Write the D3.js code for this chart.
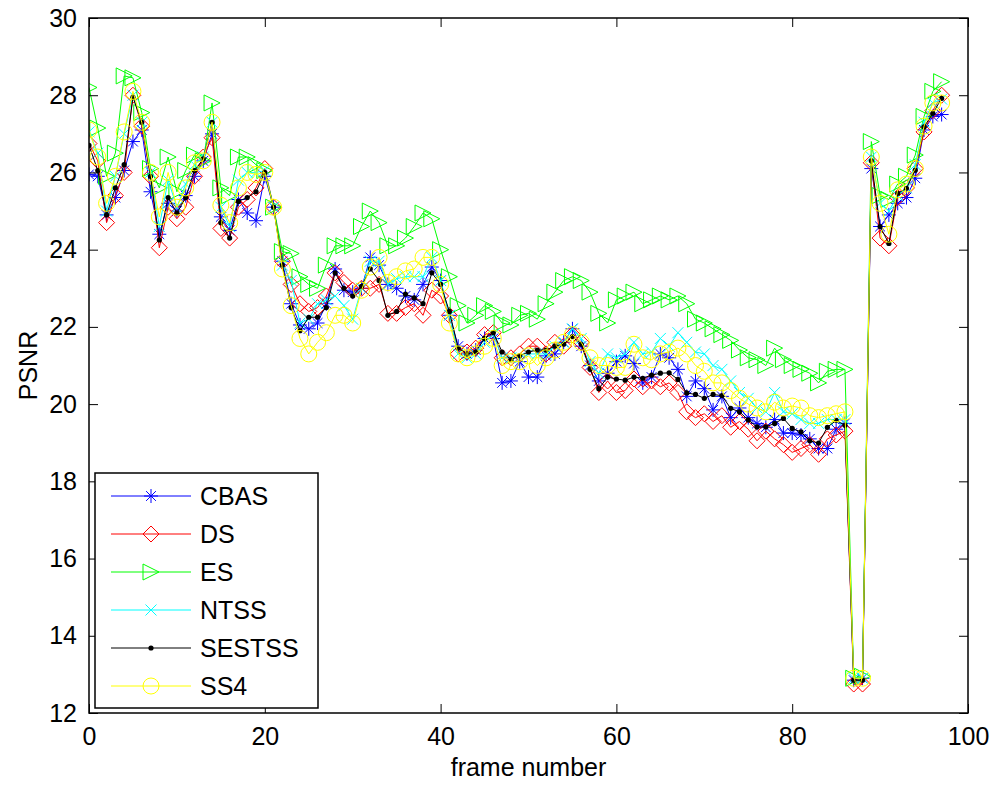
<!DOCTYPE html>
<html>
<head>
<meta charset="utf-8">
<script src="https://cdn.jsdelivr.net/npm/d3@7"></script>
<style>
  body { margin: 0; background: #fff; }
  svg { font-family: "Liberation Sans", Arial, sans-serif; }
</style>
</head>
<body>
<div id="chart"></div>
<script>
// frame numbers 0..97
const frames = d3.range(0, 98);

const cbas = [25.95, 25.9, 24.9, 25.35, 26.05, 26.8, 27.1, 25.5, 24.4, 25.2,
  25.0, 25.4, 25.9, 26.3, 27.0, 24.85, 24.5, 25.3, 24.95, 24.75,
  25.9, 25.1, 23.7, 22.6, 22.05, 21.95, 22.1, 22.6, 23.5, 22.95,
  22.9, 23.0, 23.8, 23.6, 23.1, 23.0, 22.8, 22.7, 23.1, 23.55,
  23.2, 22.3, 21.5, 21.3, 21.4, 21.7, 21.7, 20.55, 20.6, 21.1,
  20.7, 20.7, 21.25, 21.3, 21.6, 21.95, 21.5, 21.0, 20.6, 20.8,
  21.1, 21.25, 21.05, 20.55, 20.7, 21.3, 21.2, 20.9, 20.2, 20.6,
  20.4, 19.85, 20.2, 19.65, 19.9, 19.65, 19.5, 19.4, 19.6, 19.25,
  19.25, 19.2, 19.1, 18.85, 18.85, 19.35, 19.5, 12.85, 12.9, 26.1,
  24.6, 24.9, 25.2, 25.35, 25.85, 27.1, 27.45, 27.5];

const ds = [26.75, 26.3, 24.7, 25.4, 26.0, 28.0, 27.2, 25.9, 24.05, 25.1,
  24.8, 25.1, 25.9, 26.4, 26.9, 24.55, 24.3, 25.1, 25.3, 25.6,
  26.1, 25.1, 23.7, 23.1, 22.6, 22.4, 22.5, 22.8, 23.4, 23.15,
  22.95, 23.0, 23.0, 23.1, 22.35, 22.35, 22.5, 22.6, 22.3, 22.95,
  22.8, 22.3, 21.3, 21.35, 21.45, 21.8, 21.85, 21.2, 21.2, 21.3,
  21.5, 21.5, 21.3, 21.6, 21.5, 21.8, 21.6, 20.95, 20.3, 20.6,
  20.3, 20.35, 20.65, 20.45, 20.6, 20.45, 20.55, 20.3, 19.8, 19.65,
  19.75, 19.55, 19.7, 19.4, 19.55, 19.35, 19.05, 19.3, 19.1, 18.95,
  18.75, 18.85, 18.95, 18.7, 19.1, 19.2, 19.3, 12.75, 12.75, 26.25,
  24.3, 24.1, 25.35, 25.6, 26.1, 27.05, 27.6, 28.0];

const es = [28.2, 27.15, 25.9, 26.5, 28.5, 28.45, 27.55, 26.1, 25.6, 26.4,
  25.5, 26.05, 26.45, 26.3, 27.8, 25.6, 25.4, 26.4, 26.4, 26.2,
  26.05, 25.1, 23.95, 23.9, 23.3, 23.1, 23.0, 23.6, 24.1, 24.1,
  24.1, 24.6, 25.0, 24.7, 24.1, 24.1, 24.3, 24.6, 24.95, 24.8,
  24.0, 23.3, 22.55, 22.1, 22.3, 22.55, 22.4, 22.1, 22.05, 22.3,
  22.35, 22.2, 22.6, 22.9, 23.2, 23.3, 23.2, 22.9, 22.35, 22.1,
  22.7, 22.8, 22.9, 22.6, 22.7, 22.8, 22.7, 22.8, 22.6, 22.2,
  22.1, 21.95, 21.8, 21.65, 21.4, 21.2, 21.15, 21.0, 21.45, 21.15,
  21.0, 20.9, 20.8, 20.55, 20.85, 20.9, 20.9, 12.9, 12.95, 26.8,
  25.4, 25.3, 25.7, 25.9, 26.45, 27.45, 28.1, 28.35];

const ntss = [27.05, 26.5, 25.0, 25.9, 27.0, 28.0, 27.3, 26.0, 24.6, 25.8,
  25.1, 25.7, 26.2, 26.4, 27.3, 25.1, 24.6, 25.8, 26.0, 26.0,
  26.05, 25.1, 23.6, 23.2, 22.1, 22.2, 22.6, 22.7, 22.8, 22.55,
  22.2, 23.0, 23.7, 23.7, 23.1, 23.25, 23.3, 23.3, 23.3, 23.8,
  23.2, 22.3, 21.3, 21.2, 21.3, 21.6, 21.8, 21.2, 21.2, 21.2,
  21.3, 21.3, 21.3, 21.5, 21.6, 21.95, 21.7, 21.1, 20.8, 21.3,
  21.2, 21.3, 21.6, 21.3, 21.35, 21.7, 21.5, 21.85, 21.6, 21.35,
  21.3, 21.0, 20.9, 20.6, 20.3, 20.15, 19.9, 19.8, 20.3, 19.8,
  19.75, 19.6, 19.5, 19.5, 19.6, 19.6, 19.6, 12.9, 12.9, 26.4,
  25.2, 25.0, 25.4, 25.6, 26.2, 27.3, 27.8, 27.9];

const sestss = [26.7, 26.05, 24.9, 25.6, 26.2, 27.95, 27.3, 25.9, 24.25, 25.35,
  24.95, 25.35, 26.05, 26.35, 27.3, 24.7, 24.3, 25.25, 25.35, 25.5,
  26.0, 25.1, 23.6, 22.5, 21.9, 22.25, 22.25, 22.5, 23.4, 23.0,
  22.8, 23.05, 23.5, 23.2, 22.3, 22.4, 22.85, 22.75, 22.6, 23.4,
  23.1, 22.4, 21.45, 21.3, 21.35, 21.7, 21.85, 21.35, 21.15, 21.25,
  21.35, 21.4, 21.4, 21.5, 21.55, 21.75, 21.55, 20.9, 20.4, 20.7,
  20.65, 20.62, 20.7, 20.67, 20.75, 20.8, 20.81, 20.64, 20.29, 20.25,
  20.15, 20.25, 20.22, 19.89, 19.8, 19.59, 19.41, 19.41, 19.5, 19.63,
  19.37, 19.28, 19.05, 18.99, 19.4, 19.58, 19.45, 12.85, 12.85, 26.3,
  24.6, 24.16, 25.46, 25.59, 26.06, 27.18, 27.53, 27.92];

const ss4 = [27.1, 26.4, 25.2, 25.9, 27.05, 28.1, 27.3, 26.0, 24.85, 26.0,
  25.1, 25.6, 26.25, 26.3, 27.3, 25.15, 24.7, 25.6, 26.0, 25.95,
  26.0, 25.1, 23.5, 22.55, 21.7, 21.3, 21.6, 21.85, 22.3, 22.3,
  22.1, 22.95, 23.55, 23.8, 23.15, 23.3, 23.45, 23.5, 23.8, 23.8,
  23.1, 22.1, 21.3, 21.2, 21.3, 21.5, 21.7, 21.0, 21.1, 21.1,
  21.25, 21.0, 21.2, 21.4, 21.6, 21.8, 21.6, 21.2, 21.0, 21.0,
  20.95, 20.95, 21.55, 21.2, 21.15, 21.3, 21.35, 21.45, 21.3, 21.0,
  20.85, 20.55, 20.55, 20.35, 20.15, 20.0, 19.9, 19.8, 20.05, 19.9,
  19.95, 19.9, 19.7, 19.65, 19.7, 19.75, 19.8, 12.9, 12.9, 26.4,
  25.2, 24.4, 25.55, 25.7, 26.1, 27.2, 27.8, 27.8];

const seriesNames = ["CBAS", "DS", "ES", "NTSS", "SESTSS", "SS4"];
const seriesValues = [cbas, ds, es, ntss, sestss, ss4];
const seriesColors = ["#0000ff", "#ff0000", "#00ff00", "#00ffff", "#000000", "#ffff00"];
const seriesMarkers = ["asterisk", "diamond", "triangle", "cross", "dot", "circle"];

const xTicks = [0, 20, 40, 60, 80, 100];
const yTicks = [12, 14, 16, 18, 20, 22, 24, 26, 28, 30];

// dimensions
const W = 997, H = 787;
const margin = {top: 18, right: 29, bottom: 74, left: 89};
const width = W - margin.left - margin.right,
  height = H - margin.top - margin.bottom;
const fontSize = "25px";

const svg = d3.select("#chart")
  .append("svg")
  .attr("width", W)
  .attr("height", H);

const g = svg.append("g")
  .attr("transform", `translate(${margin.left},${margin.top})`);

const x = d3.scaleLinear().domain([0, 100]).range([0, width]);
const y = d3.scaleLinear().domain([12, 30]).range([height, 0]);

// clip so nothing spills out of the axes box
svg.append("defs").append("clipPath").attr("id", "clip")
  .append("rect").attr("width", width).attr("height", height);

// draw one marker of a given type at (cx, cy)
function drawMarker(sel, type, color, cx, cy) {
  if (type === "asterisk") {
    const r = 7;
    sel.append("path")
      .attr("d", `M${cx - r},${cy}L${cx + r},${cy}M${cx},${cy - r}L${cx},${cy + r}` +
        `M${cx - r * 0.7},${cy - r * 0.7}L${cx + r * 0.7},${cy + r * 0.7}` +
        `M${cx - r * 0.7},${cy + r * 0.7}L${cx + r * 0.7},${cy - r * 0.7}`)
      .attr("stroke", color).attr("fill", "none").attr("stroke-width", 1);
  } else if (type === "diamond") {
    const r = 8;
    sel.append("path")
      .attr("d", `M${cx},${cy - r}L${cx + r},${cy}L${cx},${cy + r}L${cx - r},${cy}Z`)
      .attr("stroke", color).attr("fill", "none").attr("stroke-width", 1);
  } else if (type === "triangle") {
    const r = 8;
    sel.append("path")
      .attr("d", `M${cx - r},${cy - r}L${cx + r},${cy}L${cx - r},${cy + r}Z`)
      .attr("stroke", color).attr("fill", "none").attr("stroke-width", 1);
  } else if (type === "cross") {
    const r = 5.5;
    sel.append("path")
      .attr("d", `M${cx - r},${cy - r}L${cx + r},${cy + r}M${cx - r},${cy + r}L${cx + r},${cy - r}`)
      .attr("stroke", color).attr("fill", "none").attr("stroke-width", 1);
  } else if (type === "dot") {
    sel.append("circle")
      .attr("cx", cx).attr("cy", cy).attr("r", 2.6)
      .attr("fill", color);
  } else if (type === "circle") {
    sel.append("circle")
      .attr("cx", cx).attr("cy", cy).attr("r", 8)
      .attr("stroke", color).attr("fill", "none").attr("stroke-width", 1);
  }
}

const plot = g.append("g").attr("clip-path", "url(#clip)");

const line = d3.line()
  .x((d, i) => x(frames[i]))
  .y(d => y(d));

seriesValues.forEach((vals, k) => {
  const sg = plot.append("g");
  sg.append("path")
    .datum(vals)
    .attr("d", line)
    .attr("fill", "none")
    .attr("stroke", seriesColors[k])
    .attr("stroke-width", 1);
  vals.forEach((v, i) => {
    drawMarker(sg, seriesMarkers[k], seriesColors[k], x(frames[i]), y(v));
  });
});

// axes box
g.append("rect")
  .attr("width", width)
  .attr("height", height)
  .attr("fill", "none")
  .attr("stroke", "#000")
  .attr("stroke-width", 1.5);

// ticks inside, on all four sides
const tickLen = 9;
const xAxisB = d3.axisBottom(x).tickValues(xTicks).tickSizeInner(-tickLen).tickSizeOuter(0).tickPadding(14);
const xAxisT = d3.axisTop(x).tickValues(xTicks).tickSizeInner(-tickLen).tickSizeOuter(0).tickFormat("");
const yAxisL = d3.axisLeft(y).tickValues(yTicks).tickSizeInner(-tickLen).tickSizeOuter(0).tickPadding(12);
const yAxisR = d3.axisRight(y).tickValues(yTicks).tickSizeInner(-tickLen).tickSizeOuter(0).tickFormat("");

[
  g.append("g").attr("transform", `translate(0,${height})`).call(xAxisB),
  g.append("g").call(xAxisT),
  g.append("g").call(yAxisL),
  g.append("g").attr("transform", `translate(${width},0)`).call(yAxisR)
].forEach(ax => {
  ax.select(".domain").remove();
  ax.selectAll("line").attr("stroke", "#000").attr("stroke-width", 1);
  ax.selectAll("text")
    .attr("font-family", "'Liberation Sans', Arial, sans-serif")
    .attr("font-size", fontSize)
    .attr("fill", "#000");
});

// axis labels
g.append("text")
  .attr("x", width / 2)
  .attr("y", height + 63)
  .attr("text-anchor", "middle")
  .attr("font-size", fontSize)
  .text("frame number");

g.append("text")
  .attr("transform", `translate(${-52},${height / 2}) rotate(-90)`)
  .attr("text-anchor", "middle")
  .attr("font-size", fontSize)
  .text("PSNR");

// legend
const legend = svg.append("g").attr("transform", "translate(95,473)");
legend.append("rect")
  .attr("width", 223)
  .attr("height", 235)
  .attr("fill", "#fff")
  .attr("stroke", "#000")
  .attr("stroke-width", 1.5);

seriesNames.forEach((name, k) => {
  const ly = 23 + k * 38;
  legend.append("line")
    .attr("x1", 16).attr("x2", 96)
    .attr("y1", ly).attr("y2", ly)
    .attr("stroke", seriesColors[k])
    .attr("stroke-width", 1);
  drawMarker(legend, seriesMarkers[k], seriesColors[k], 56, ly);
  legend.append("text")
    .attr("x", 105)
    .attr("y", ly + 9)
    .attr("font-size", fontSize)
    .text(name);
});
</script>
</body>
</html>
